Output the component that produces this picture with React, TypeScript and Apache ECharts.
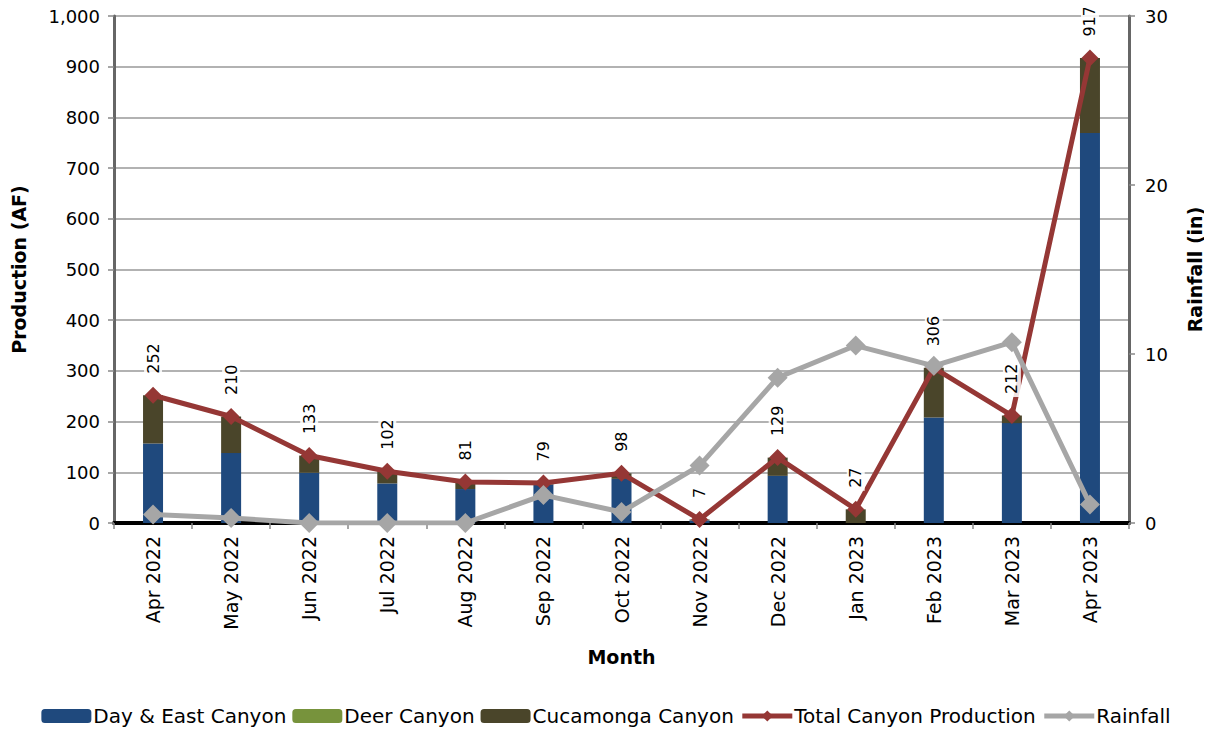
import React, { useEffect, useRef } from "react";
import * as echarts from "echarts";

const months = ["Apr 2022","May 2022","Jun 2022","Jul 2022","Aug 2022","Sep 2022","Oct 2022","Nov 2022","Dec 2022","Jan 2023","Feb 2023","Mar 2023","Apr 2023"];
const dayEast = [157, 138, 99, 78, 67, 76, 87, 5, 93, 0, 208, 197, 769];
const deer = [0, 0, 0, 0, 0, 0, 0, 0, 0, 0, 0, 0, 0];
const cucamonga = [95, 72, 34, 24, 14, 3, 11, 2, 36, 27, 98, 15, 148];
const totalProd = [252, 210, 133, 102, 81, 79, 98, 7, 129, 27, 306, 212, 917];
const rainfall = [0.5, 0.3, 0, 0, 0, 1.65, 0.65, 3.4, 8.6, 10.5, 9.3, 10.7, 1.1];
const leftTicks = { min: 0, max: 1000, interval: 100 };
const rightTicks = { min: 0, max: 30, interval: 10 };

const FONT = "DejaVu Sans";

export default function App() {
  const ref = useRef<HTMLDivElement>(null);
  useEffect(() => {
    if (!ref.current) return;
    const chart = echarts.init(ref.current, null, { renderer: "svg" });
    const option: any = {
      animation: false,
      backgroundColor: "#fff",
      textStyle: { fontFamily: FONT },
      grid: { left: 114, right: 81, top: 16, bottom: 216, containLabel: false },
      legend: {
        bottom: 8,
        left: "center",
        itemWidth: 50,
        itemHeight: 14,
        itemGap: 6,
        textStyle: { fontFamily: FONT, fontSize: 20, color: "#000", padding: [0, 0, 0, -3] },
        data: [
          { name: "Day & East Canyon" },
          { name: "Deer Canyon" },
          { name: "Cucamonga Canyon" },
          { name: "Total Canyon Production", lineStyle: { width: 5 } },
          { name: "Rainfall", lineStyle: { width: 5 } },
        ],
      },
      xAxis: [
        {
          type: "category",
          data: months,
          position: "bottom",
          name: "Month",
          nameLocation: "middle",
          nameGap: 124,
          nameTextStyle: { fontFamily: FONT, fontSize: 19, fontWeight: "bold", color: "#000" },
          axisLine: { show: true, lineStyle: { color: "#222", width: 3 } },
          axisTick: { show: true, alignWithLabel: false, length: 6, lineStyle: { color: "#888", width: 1.5 } },
          axisLabel: { rotate: 90, margin: 13, fontFamily: FONT, fontSize: 19, color: "#000" },
          splitLine: { show: false },
        },
        {
          type: "category",
          data: months,
          position: "top",
          axisLine: { show: true, lineStyle: { color: "#000", width: 4 } },
          axisTick: { show: false },
          axisLabel: { show: false },
        },
      ],
      yAxis: [
        {
          type: "value",
          min: leftTicks.min,
          max: leftTicks.max,
          interval: leftTicks.interval,
          name: "Production (AF)",
          nameLocation: "middle",
          nameGap: 86,
          nameTextStyle: { fontFamily: FONT, fontSize: 19, fontWeight: "bold", color: "#000" },
          axisLine: { show: true, lineStyle: { color: "#666", width: 3 } },
          axisTick: { show: true, length: 6, lineStyle: { color: "#888", width: 1.5 } },
          axisLabel: {
            fontFamily: FONT, fontSize: 18, color: "#000", margin: 14,
            formatter: (v: number) => v.toLocaleString("en-US"),
          },
          splitLine: { show: true, lineStyle: { color: "#999", width: 1.5 } },
        },
        {
          type: "value",
          min: rightTicks.min,
          max: rightTicks.max,
          interval: rightTicks.interval,
          name: "Rainfall (in)",
          nameLocation: "middle",
          nameGap: 56,
          nameRotate: 90,
          nameTextStyle: { fontFamily: FONT, fontSize: 19, fontWeight: "bold", color: "#000" },
          axisLine: { show: true, lineStyle: { color: "#666", width: 3 } },
          axisTick: { show: true, length: 6, lineStyle: { color: "#888", width: 1.5 } },
          axisLabel: { fontFamily: FONT, fontSize: 18, color: "#000", margin: 16 },
          splitLine: { show: false },
        },
      ],
      series: [
        {
          name: "Day & East Canyon",
          type: "bar",
          stack: "canyon",
          barWidth: 20,
          data: dayEast,
          itemStyle: { color: "#1f497d" },
        },
        {
          name: "Deer Canyon",
          type: "bar",
          stack: "canyon",
          barWidth: 20,
          data: deer,
          itemStyle: { color: "#77933c" },
        },
        {
          name: "Cucamonga Canyon",
          type: "bar",
          stack: "canyon",
          barWidth: 20,
          data: cucamonga,
          itemStyle: { color: "#4a452a" },
        },
        {
          name: "Total Canyon Production",
          type: "line",
          data: totalProd,
          symbol: "diamond",
          symbolSize: 17,
          lineStyle: { color: "#953735", width: 5 },
          itemStyle: { color: "#953735" },
          z: 5,
          label: {
            show: true,
            position: "top",
            distance: 10,
            rotate: 90,
            align: "left",
            verticalAlign: "middle",
            fontFamily: FONT,
            fontSize: 16,
            color: "#000",
            backgroundColor: "rgba(255,255,255,0.85)",
            padding: [1, 3, 1, 3],
          },
        },
        {
          name: "Rainfall",
          type: "line",
          yAxisIndex: 1,
          data: rainfall,
          symbol: "diamond",
          symbolSize: 20,
          lineStyle: { color: "#a6a6a6", width: 5 },
          itemStyle: { color: "#a6a6a6" },
          z: 6,
        },
      ],
    };
    chart.setOption(option);
    return () => chart.dispose();
  }, []);
  return <div ref={ref} style={{ width: 1212, height: 739, margin: -8 }} />;
}
